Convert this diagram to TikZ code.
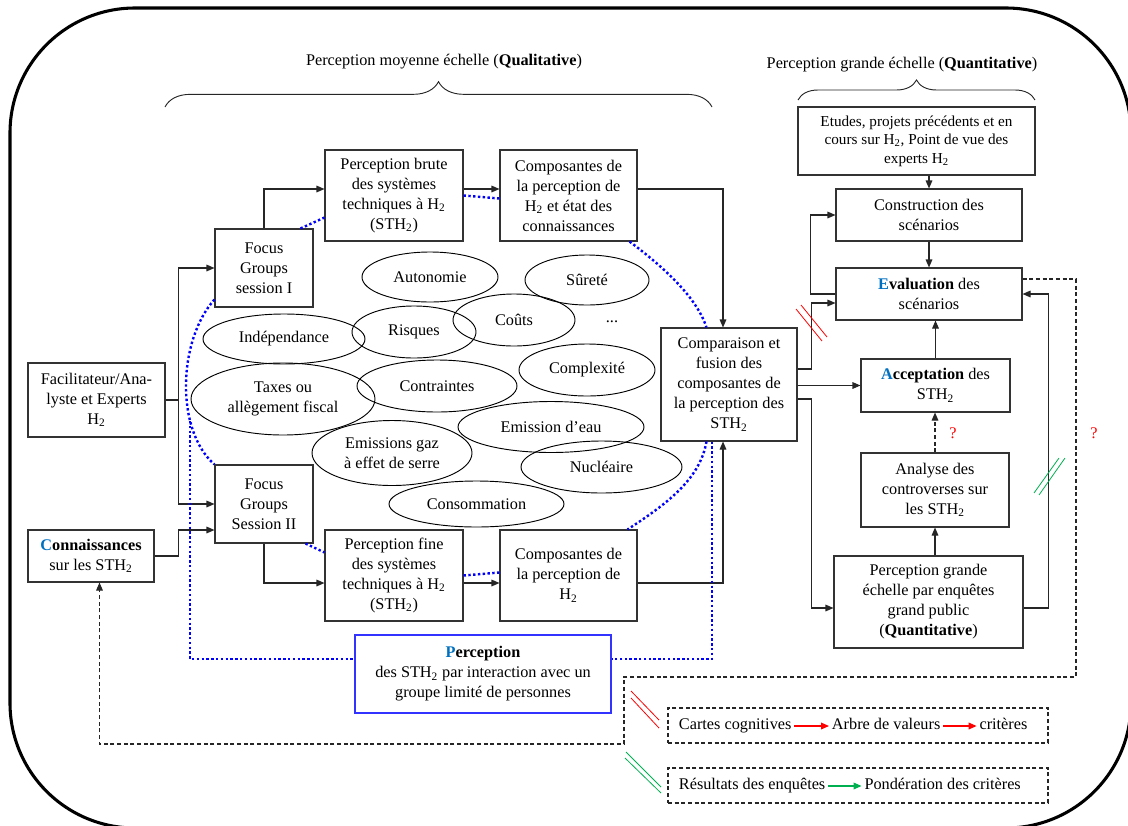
\documentclass[tikz,border=0pt]{standalone}
\usepackage{fontspec}
\setmainfont{Liberation Serif}
\usepackage{tikz}
\usetikzlibrary{calc,arrows.meta}
\usetikzlibrary{positioning}
\usetikzlibrary{shapes.geometric,decorations.pathreplacing}

\definecolor{ebleu}{RGB}{0,112,192}
\definecolor{cadrebleu}{RGB}{51,51,255}
\definecolor{vert}{RGB}{0,176,80}
\newcommand{\HH}{H\textsubscript{2}}
\newcommand{\STH}{STH\textsubscript{2}}
\newcommand{\lettre}[1]{\textcolor{ebleu}{#1}}

\begin{document}
\begin{tikzpicture}[x=0.75pt,y=-0.75pt,
        txt/.style={font=\fontsize{12.2pt}{15pt}\selectfont},
        sz/.style 2 args={minimum width=#1*0.75pt, minimum height=#2*0.75pt},
        box/.style={txt, rectangle, draw=black!80, line width=0.8pt, align=center, inner sep=2pt},
        oval/.style={txt, ellipse, draw=black, line width=0.7pt, align=center, inner sep=0pt},
        arr/.style={draw=black!85, line width=0.8pt, -{Triangle[length=6pt,width=5pt]}},
        tiret/.style={draw=black!85, line width=0.8pt, dash pattern=on 3pt off 2pt},
        pointille/.style={draw=blue, line width=1.8pt, dash pattern=on 1.8pt off 1.8pt},
        legtext/.style={txt, inner sep=2pt, text height=1.6ex, text depth=0.45ex},
        legbox/.style={draw=black!85, line width=0.8pt, dash pattern=on 3pt off 2pt},
        fleche/.style={line width=1pt, -{Triangle[length=6pt,width=5pt]}}]
    \useasboundingbox (0,0) rectangle (1128,825);
    \clip (0,0) rectangle (1128,825);
    % cadre
    \draw[line width=2.3pt, rounded corners=93.75pt] (10,8) rectangle (1131,828);

    %Titres et accolades
    \node[txt] (titreQual) at (444,62) {Perception moyenne échelle (\textbf{Qualitative})};
    \node[txt] (titreQuant) at (902,65) {Perception grande échelle (\textbf{Quantitative})};
    \draw[decorate, decoration={brace, amplitude=19pt}, line width=0.7pt, black!85] (165,107) -- (712,107);
    \draw[decorate, decoration={brace, amplitude=15pt}, line width=0.7pt, black!85] (798,100) -- (1035,100);

    %Nodes
    \node[box, sz={137}{74}] (facil) at (96.5,400) {Facilitateur/Ana-\\lyste et Experts\\\HH};
    \node[box, sz={126}{52}] (connais) at (91,556) {\textbf{\lettre{C}onnaissances}\\sur les \STH};
    \node[box, sz={98}{78}] (focusA) at (264,268) {Focus\\Groups\\session I};
    \node[box, sz={98}{78}] (focusB) at (264,504) {Focus\\Groups\\Session II};
    \node[box, sz={138}{91}] (pbrute) at (394,195.5) {Perception brute\\des systèmes\\techniques à \HH\\(\STH)};
    \node[box, sz={137}{91}] (compA) at (568.5,195.5) {Composantes de\\la perception de\\\HH{} et état des\\connaissances};
    \node[box, sz={138}{91}] (pfine) at (394,575.5) {Perception fine\\des systèmes\\techniques à \HH\\(\STH)};
    \node[box, sz={137}{91}] (compB) at (568.5,575.5) {Composantes de\\la perception de\\\HH};
    \node[box, sz={136}{113}] (compar) at (729,384.5) {Comparaison et\\fusion des\\composantes de\\la perception des\\\STH};
    \node[box, sz={256}{78}, draw=cadrebleu] (percep) at (483,674) {\textbf{\lettre{P}erception}\\des \STH{} par interaction avec un\\groupe limité de personnes};

    \node[box, sz={237}{68}, font=\fontsize{11.4pt}{14pt}\selectfont] (etudes) at (916.5,141) {Etudes, projets précédents et en\\cours sur \HH, Point de vue des\\experts \HH};
    \node[box, sz={186}{52}] (constr) at (929,215) {Construction des\\scénarios};
    \node[box, sz={186}{52}] (evalu) at (929,294) {\textbf{\lettre{E}valuation} des\\scénarios};
    \node[box, sz={149}{53}] (accept) at (935.5,385.5) {\textbf{\lettre{A}cceptation} des\\\STH};
    \node[box, sz={148}{74}] (analyse) at (935,490) {Analyse des\\controverses sur\\les \STH};
    \node[box, sz={189}{92}] (pgrande) at (928.5,602) {Perception grande\\échelle par enquêtes\\grand public\\(\textbf{Quantitative})};

    %Ellipses
    \node[oval, sz={136}{50}] (autonomie) at (430,277) {Autonomie};
    \node[oval, sz={124}{50}] (surete) at (587,280) {Sûreté};
    \node[oval, sz={124}{52}] (risques) at (414,332) {Risques};
    \node[oval, sz={122}{52}] (couts) at (514,320) {Coûts};
    \node[txt] (etc) at (612,322) {...};
    \node[oval, sz={162}{50}] (indep) at (284,339) {Indépendance};
    \node[oval, sz={184}{72}] (taxes) at (283,399) {Taxes ou\\allègement fiscal};
    \node[oval, sz={160}{52}] (contraintes) at (437,386) {Contraintes};
    \node[oval, sz={136}{52}] (complex) at (587,370) {Complexité};
    \node[oval, sz={186}{51}] (eau) at (551,427) {Emission d’eau};
    \node[oval, sz={160}{65}] (gaz) at (392,453) {Emissions gaz\\à effet de serre};
    \node[oval, sz={161}{52}] (nucleaire) at (601.5,467) {Nucléaire};
    \node[oval, sz={175}{46}] (conso) at (476.5,504) {Consommation};

    %Fleches partie qualitative
    \draw[arr] (facil.east) -- ++(13,0) |- (focusA.west);
    \draw[arr] (facil.east) -- ++(13,0) |- (focusB.west);
    \draw[arr] (connais.east) -- ++(24,0) |- ($(focusB.west)+(0,26)$);
    \draw[arr] (focusA.north) |- ($(pbrute.west)+(0,-6.5)$);
    \draw[arr] ($(pbrute.east)+(0,-6.5)$) -- ($(compA.west)+(0,-6.5)$);
    \draw[arr] ($(compA.east)+(0,-6.5)$) -| ($(compar.north)+(-6,0)$);
    \draw[arr] (focusB.south) |- ($(pfine.west)+(0,7.5)$);
    \draw[arr] ($(pfine.east)+(0,7.5)$) -- ($(compB.west)+(0,7.5)$);
    \draw[arr] ($(compB.east)+(0,7.5)$) -| ($(compar.south)+(-6,0)$);

    %Fleches partie quantitative
    \draw[arr] (etudes.south -| constr.north) -- (constr.north);
    \draw[arr] (constr.south) -- (evalu.north);
    \draw[arr] (evalu.west) -- ++(-25,0) |- (constr.west);
    \draw[arr] ($(compar.east)+(0,-15.5)$) -- ++(14,0) |- ($(evalu.west)+(0,9)$);
    \draw[arr] (compar.east |- accept.west) -- (accept.west);
    \draw[arr] ($(compar.east)+(0,14.5)$) -- ++(14,0) |- ($(pgrande.west)+(0,6)$);
    \draw[arr] (accept.north) -- (accept.north |- evalu.south);
    \draw[arr, tiret] (analyse.north) -- (analyse.north |- accept.south);
    \draw[arr] (analyse.south |- pgrande.north) -- (analyse.south);
    \draw[arr] ($(pgrande.east)+(0,6)$) -- ++(24.5,0) |- (evalu.east);

    % retour en tirets
    \coordinate (retourA) at (1076,677);
    \coordinate (retourB) at (624,744);
    \draw[arr, tiret] ($(evalu.east)+(0,-15)$) -| (retourA) -| (retourB) -| ($(connais.south)+(8.5,0)$);

    \node[txt, text=red] (qA) at (953,433) {?};
    \node[txt, text=red] (qB) at (1094,433) {?};

    % pointilles bleus
    \coordinate (dotL) at (190,421);
    \draw[pointille] ($(focusA.south west)+(0,-8)$) .. controls (178,340) and (175,430) .. (focusB.north west);
    \draw[pointille] (dotL) |- ($(percep.west)+(0,-15)$);
    \draw[pointille] ($(focusA.north east)+(-13,0)$) -- ($(pbrute.south west)+(0,-24)$);
    \draw[pointille] (pbrute.east) -- ($(compA.west)+(0,3)$);
    \draw[pointille] ($(compA.south east)+(-8,0)$) .. controls (665,268) and (697,298) .. ($(compar.north west)+(46,0)$);
    \draw[pointille] ($(compar.south west)+(46,0)$) .. controls (700,480) and (665,505) .. ($(compB.north east)+(-10,0)$);
    \draw[pointille] ($(compar.south)+(-17,0)$) |- ($(percep.east)+(0,-15)$);
    \draw[pointille] ($(focusB.south east)+(-8,0)$) -- ($(pfine.north west)+(0,23)$);
    \draw[pointille] (pfine.east) -- ($(compB.west)+(0,-3)$);

    % barres
    \draw[red, line width=0.6pt] (796,309) -- (822,341) (801,305) -- (827,337);
    \draw[vert, line width=0.6pt] (1034,493) -- (1059,458) (1039,495) -- (1065,458);
    \draw[red, line width=0.6pt] (631,691) -- (659,720) (631,698) -- (659,728);
    \draw[vert, line width=0.6pt] (626,752) -- (661,787) (625,758) -- (661,793);

    %Legende
    \node[legbox, sz={380}{35}] (legA) at (858,725.5) {};
    \node[legtext, anchor=west] (cartes) at (676,726) {Cartes cognitives};
    \node[legtext] (arbre) [right=26pt of cartes] {Arbre de valeurs};
    \node[legtext] (criteres) [right=25pt of arbre] {critères};
    \draw[fleche, red] (cartes) -- (arbre);
    \draw[fleche, red] (arbre) -- (criteres);

    \node[legbox, sz={380}{35}] (legB) at (858,785.5) {};
    \node[legtext, anchor=west] (resultats) at (676,786) {Résultats des enquêtes};
    \node[legtext] (ponder) [right=25pt of resultats] {Pondération des critères};
    \draw[fleche, vert] (resultats) -- (ponder);
\end{tikzpicture}
\end{document}
